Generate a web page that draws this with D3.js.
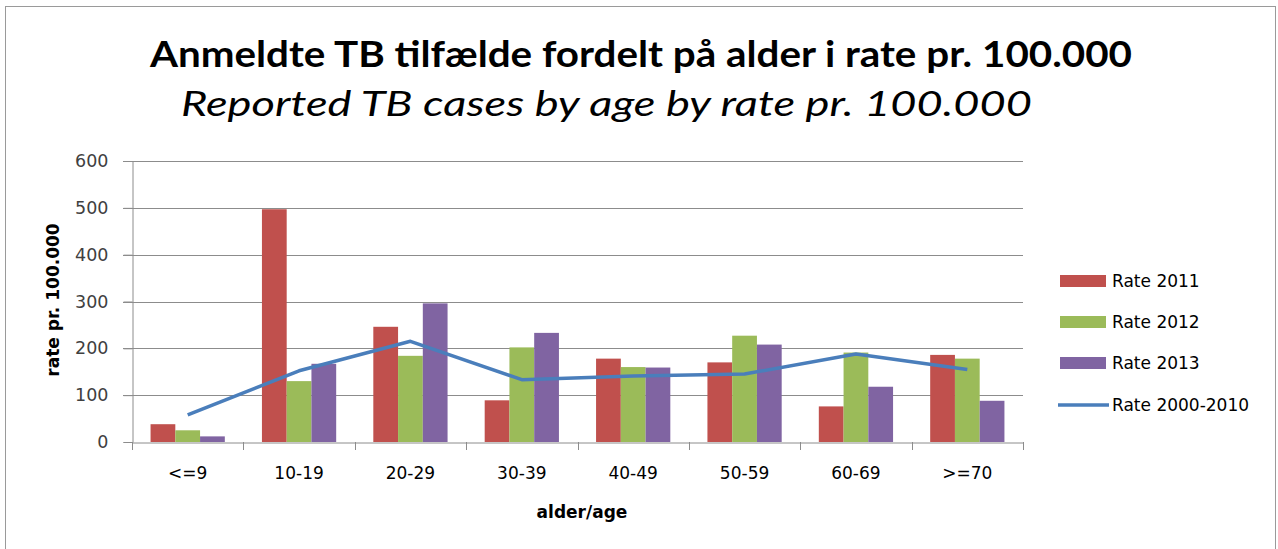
<!DOCTYPE html>
<html>
<head>
<meta charset="utf-8">
<script src="https://cdn.jsdelivr.net/npm/d3@7"></script>
<style>
  body { margin: 0; background: #fff; }
  text { font-family: "DejaVu Sans", sans-serif; }
</style>
</head>
<body>
<div id="main"></div>
<script>
const ctx = {
    w: 1278,
    h: 549,
    left: 132,
    right: 1023,
    top: 161,
    bottom: 442,
};

// data
const AGE_GROUPS = ["<=9", "10-19", "20-29", "30-39", "40-49", "50-59", "60-69", ">=70"];
const RATE_2011 = [38, 497, 246, 89, 178, 170, 76, 186];
const RATE_2012 = [25, 130, 184, 202, 160, 227, 191, 178];
const RATE_2013 = [12, 167, 296, 233, 159, 208, 118, 88];
const RATE_2000_2010 = [58, 152, 215, 133, 141, 145, 188, 155];
const BAR_SERIES = ["Rate 2011", "Rate 2012", "Rate 2013"];
const LINE_SERIES = "Rate 2000-2010";
const Y_TICKS = [0, 100, 200, 300, 400, 500, 600];
const COLORS = ["#C0504D", "#9BBB59", "#8064A2"];
const LINE_COLOR = "#4A7EBB";

function createViz() {
    let svgEl = d3.select("#main").append("svg")
        .attr("width", ctx.w)
        .attr("height", ctx.h);

    // outer frame
    svgEl.append("rect")
        .attr("x", 5.5).attr("y", 6.5)
        .attr("width", 1270).attr("height", 560)
        .attr("fill", "none")
        .attr("stroke", "#9a9a9a");

    // titles
    svgEl.append("text")
        .attr("x", 150).attr("y", 67)
        .attr("textLength", 982).attr("lengthAdjust", "spacingAndGlyphs")
        .style("font-family", "Lato, sans-serif")
        .style("font-size", "36px").style("font-weight", "bold")
        .attr("fill", "#000")
        .text("Anmeldte TB tilfælde fordelt på alder i rate pr. 100.000");
    svgEl.append("text")
        .attr("x", 181).attr("y", 116)
        .attr("textLength", 851).attr("lengthAdjust", "spacingAndGlyphs")
        .style("font-family", "Lato, sans-serif")
        .style("font-size", "34px").style("font-style", "italic")
        .attr("fill", "#000")
        .text("Reported TB cases by age by rate pr. 100.000");

    let x0 = d3.scaleBand()
        .domain(AGE_GROUPS)
        .range([ctx.left, ctx.right])
        .paddingInner(0)
        .paddingOuter(0);
    let x1 = d3.scaleBand()
        .domain(BAR_SERIES)
        .range([0, x0.bandwidth()])
        .paddingOuter(0.75)
        .paddingInner(0);
    let y = d3.scaleLinear()
        .domain([0, 600])
        .range([ctx.bottom, ctx.top]);

    // gridlines
    svgEl.append("g")
        .selectAll("line")
        .data(Y_TICKS.filter((d) => d > 0))
        .enter()
        .append("line")
        .attr("x1", ctx.left - 9).attr("x2", ctx.right)
        .attr("y1", (d) => Math.round(y(d)) + 0.5)
        .attr("y2", (d) => Math.round(y(d)) + 0.5)
        .attr("stroke", "#8c8c8c").attr("stroke-width", 1);

    // y axis
    let yAxis = svgEl.append("g")
        .attr("transform", `translate(${ctx.left + 0.5},0)`)
        .call(d3.axisLeft(y).tickValues(Y_TICKS).tickSize(9).tickPadding(15));
    yAxis.select(".domain").attr("stroke", "#8c8c8c");
    yAxis.selectAll(".tick line").attr("stroke", "#8c8c8c");
    yAxis.selectAll(".tick text")
        .style("font-size", "17.5px").style("font-family", "DejaVu Sans, sans-serif")
        .attr("fill", "#404040");

    // bars
    let series = [RATE_2011, RATE_2012, RATE_2013];
    series.forEach(function (vals, si) {
        svgEl.append("g")
            .selectAll("rect")
            .data(vals)
            .enter()
            .append("rect")
            .attr("x", (d, j) => x0(AGE_GROUPS[j]) + x1(BAR_SERIES[si]))
            .attr("width", x1.bandwidth())
            .attr("y", (d) => y(d))
            .attr("height", (d) => y(0) - y(d))
            .attr("fill", COLORS[si]);
    });

    // x axis
    let xAxis = svgEl.append("g")
        .attr("transform", `translate(0,${ctx.bottom + 0.5})`)
        .call(d3.axisBottom(x0).tickSize(0).tickPadding(24));
    xAxis.select(".domain").attr("stroke", "#8c8c8c");
    xAxis.selectAll(".tick text")
        .style("font-size", "17px").style("font-family", "DejaVu Sans, sans-serif")
        .attr("fill", "#000");
    svgEl.append("g")
        .selectAll("line")
        .data(AGE_GROUPS.concat(["end"]))
        .enter()
        .append("line")
        .attr("x1", (d, i) => Math.round(ctx.left + i * x0.bandwidth()) + 0.5)
        .attr("x2", (d, i) => Math.round(ctx.left + i * x0.bandwidth()) + 0.5)
        .attr("y1", ctx.bottom).attr("y2", ctx.bottom + 8)
        .attr("stroke", "#8c8c8c");

    // line series
    let line = d3.line()
        .x((d, i) => x0(AGE_GROUPS[i]) + x0.bandwidth() / 2)
        .y((d) => y(d));
    svgEl.append("path")
        .datum(RATE_2000_2010)
        .attr("d", line)
        .attr("fill", "none")
        .attr("stroke", LINE_COLOR)
        .attr("stroke-width", 3.5)
        .attr("stroke-linejoin", "round");

    // axis titles
    svgEl.append("text")
        .attr("transform", "translate(59,300) rotate(-90)")
        .attr("text-anchor", "middle")
        .style("font-size", "17px").style("font-weight", "bold")
        .text("rate pr. 100.000");
    svgEl.append("text")
        .attr("x", 582).attr("y", 518)
        .attr("text-anchor", "middle")
        .style("font-size", "17px").style("font-weight", "bold")
        .text("alder/age");

    // legend
    let legendG = svgEl.append("g").attr("transform", "translate(1060,0)");
    const legendY = [281, 322, 363, 405];
    BAR_SERIES.forEach(function (name, i) {
        legendG.append("rect")
            .attr("x", 0).attr("y", legendY[i] - 6)
            .attr("width", 46).attr("height", 12)
            .attr("fill", COLORS[i]);
        legendG.append("text")
            .attr("x", 52).attr("y", legendY[i] + 6)
            .style("font-size", "17px")
            .attr("fill", "#000")
            .text(name);
    });
    legendG.append("line")
        .attr("x1", -2).attr("x2", 49)
        .attr("y1", legendY[3]).attr("y2", legendY[3])
        .attr("stroke", LINE_COLOR).attr("stroke-width", 3.5);
    legendG.append("text")
        .attr("x", 52).attr("y", legendY[3] + 6)
        .style("font-size", "17px")
        .attr("fill", "#000")
        .text(LINE_SERIES);
}

createViz();
</script>
</body>
</html>
